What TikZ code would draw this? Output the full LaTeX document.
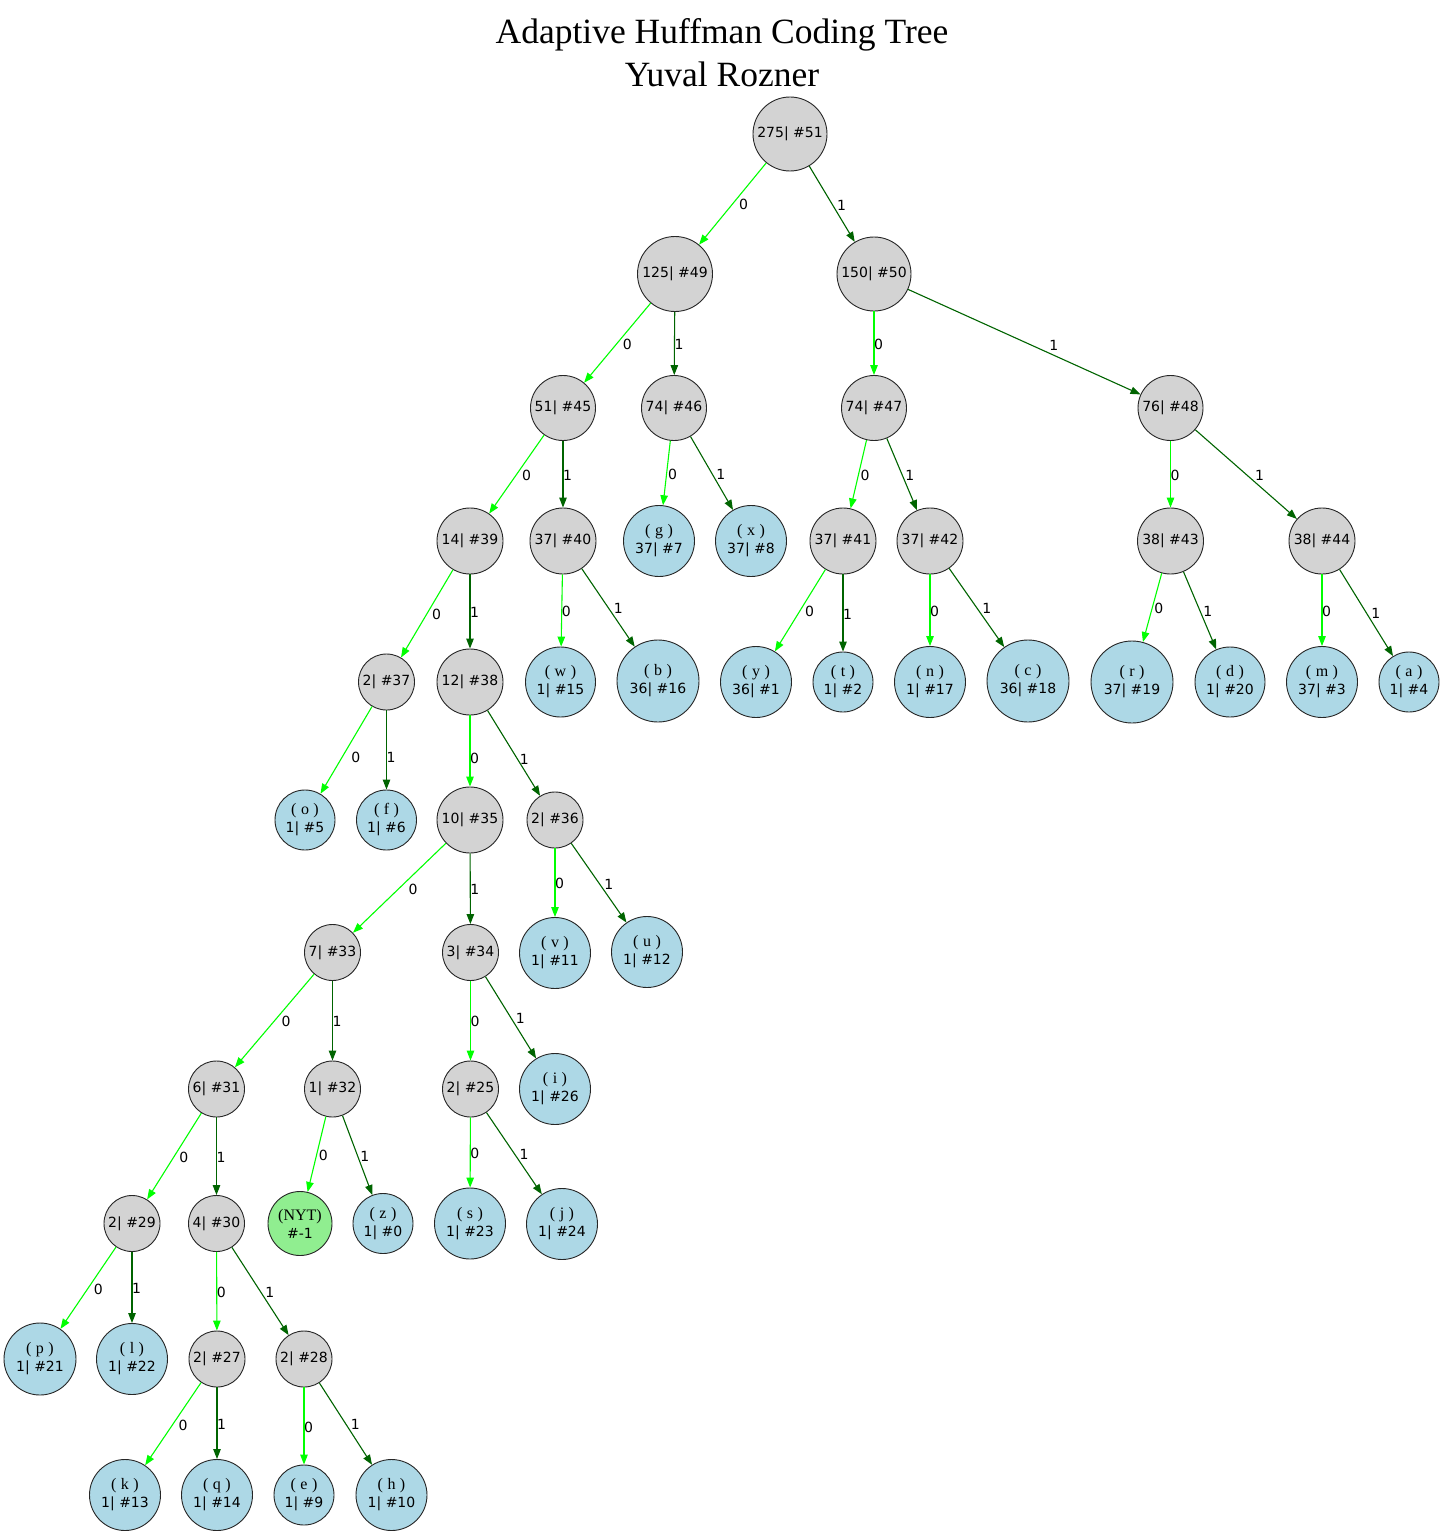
\documentclass[tikz,border=0pt]{standalone}
\usepackage{fontspec}
\setmainfont{Liberation Serif}
\newfontfamily\labsans{DejaVu Sans}
\newfontfamily\labserif{Liberation Serif}
\usetikzlibrary{arrows.meta}
\definecolor{nodegray}{HTML}{D3D3D3}
\definecolor{leafblue}{HTML}{ADD8E6}
\definecolor{nytgreen}{HTML}{90EE90}
\definecolor{zerogreen}{HTML}{00FF00}
\definecolor{onegreen}{HTML}{006400}
\newcommand\lf[2]{{\labserif\fontsize{16}{18}\selectfont(\hspace{4.5pt}#1\hspace{4.5pt})}\\#2}
\newcommand\lfnyt[2]{{\labserif\fontsize{16}{18}\selectfont(#1)}\\#2}
\begin{document}
\begin{tikzpicture}[x=1pt,y=-1pt,
  base/.style={circle, draw=black!85, line width=0.9pt, inner sep=0pt,
    font=\labsans\fontsize{14}{18}\selectfont, align=center},
  inode/.style={base, fill=nodegray, minimum size=#1},
  lnode/.style={base, fill=leafblue, minimum size=#1},
  nytnode/.style={base, fill=nytgreen, minimum size=#1},
  zero/.style={draw=zerogreen, line width=1.1pt, -{Triangle[length=10pt,width=7.5pt]}},
  one/.style={draw=onegreen, line width=1.1pt, -{Triangle[length=10pt,width=7.5pt]}},
  lbl/.style={midway, inner sep=0pt, text=black, font=\labsans\fontsize{14}{14}\selectfont, yshift=-1pt},
  titlefont/.style={font=\fontsize{35.5}{40}\selectfont},
]
\fill[white] (0,0) rectangle (1444,1536);
\useasboundingbox (0,0) rectangle (1444,1536);

\node[titlefont] (title1) at (722,35) {Adaptive Huffman Coding Tree};
\node[titlefont] (title2) at (722,74) {Yuval Rozner};

% internal nodes
\node[inode=74pt] (n51) at (790,134) {275| \#51};
\node[inode=75pt] (n49) at (675,274) {125| \#49};
\node[inode=74pt] (n50) at (874,274) {150| \#50};
\node[inode=65pt] (n45) at (563,408) {51| \#45};
\node[inode=65pt] (n46) at (674,408) {74| \#46};
\node[inode=65pt] (n47) at (874,408) {74| \#47};
\node[inode=65pt] (n48) at (1170.5,408) {76| \#48};
\node[inode=66pt] (n39) at (470,541) {14| \#39};
\node[inode=66pt] (n40) at (563,541) {37| \#40};
\node[inode=66pt] (n41) at (843,541) {37| \#41};
\node[inode=66pt] (n42) at (930,541) {37| \#42};
\node[inode=66pt] (n43) at (1170.5,541) {38| \#43};
\node[inode=66pt] (n44) at (1322,541) {38| \#44};
\node[inode=56pt] (n37) at (386.5,682) {2| \#37};
\node[inode=66pt] (n38) at (470,682) {12| \#38};
\node[inode=66pt] (n35) at (470,820) {10| \#35};
\node[inode=56pt] (n36) at (555,820) {2| \#36};
\node[inode=56pt] (n33) at (332.5,952.5) {7| \#33};
\node[inode=56pt] (n34) at (470.5,952.5) {3| \#34};
\node[inode=56pt] (n31) at (216.5,1089) {6| \#31};
\node[inode=56pt] (n32) at (332.5,1089) {1| \#32};
\node[inode=56pt] (n25) at (470.5,1089) {2| \#25};
\node[inode=56pt] (n29) at (132,1223.5) {2| \#29};
\node[inode=56pt] (n30) at (216.5,1223.5) {4| \#30};
\node[inode=56pt] (n27) at (217,1359) {2| \#27};
\node[inode=56pt] (n28) at (304,1359) {2| \#28};

% leaves
\node[lnode=71pt] (g) at (659,541) {\lf{g}{37| \#7}};
\node[lnode=71pt] (x) at (751,541) {\lf{x}{37| \#8}};
\node[lnode=70pt] (w) at (560.5,682) {\lf{w}{1| \#15}};
\node[lnode=82pt] (b) at (658,681) {\lf{b}{36| \#16}};
\node[lnode=71pt] (y) at (756,682) {\lf{y}{36| \#1}};
\node[lnode=60pt] (t) at (843,682) {\lf{t}{1| \#2}};
\node[lnode=71pt] (n) at (930,682) {\lf{n}{1| \#17}};
\node[lnode=82pt] (c) at (1028,681) {\lf{c}{36| \#18}};
\node[lnode=82pt] (r) at (1132,682) {\lf{r}{37| \#19}};
\node[lnode=70pt] (d) at (1230,682) {\lf{d}{1| \#20}};
\node[lnode=71pt] (m) at (1322,682) {\lf{m}{37| \#3}};
\node[lnode=60pt] (a) at (1409,682) {\lf{a}{1| \#4}};
\node[lnode=60pt] (o) at (305,820) {\lf{o}{1| \#5}};
\node[lnode=60pt] (f) at (386.5,820) {\lf{f}{1| \#6}};
\node[lnode=71pt] (v) at (555,953) {\lf{v}{1| \#11}};
\node[lnode=71pt] (u) at (647,952) {\lf{u}{1| \#12}};
\node[lnode=71pt] (i) at (555,1089) {\lf{i}{1| \#26}};
\node[nytnode=64pt] (nyt) at (300,1223.5) {\lfnyt{NYT}{\#-1}};
\node[lnode=60pt] (z) at (383,1223.5) {\lf{z}{1| \#0}};
\node[lnode=71pt] (s) at (470,1223.5) {\lf{s}{1| \#23}};
\node[lnode=71pt] (j) at (562,1224) {\lf{j}{1| \#24}};
\node[lnode=72pt] (p) at (40,1359) {\lf{p}{1| \#21}};
\node[lnode=71pt] (l) at (132,1359) {\lf{l}{1| \#22}};
\node[lnode=71pt] (k) at (125,1495) {\lf{k}{1| \#13}};
\node[lnode=71pt] (q) at (217,1495) {\lf{q}{1| \#14}};
\node[lnode=60pt] (e) at (304,1495) {\lf{e}{1| \#9}};
\node[lnode=71pt] (h) at (391.5,1495) {\lf{h}{1| \#10}};

% edges
\draw[zero] (n51) -- node[lbl, xshift=11pt] {0} (n49);
\draw[one]  (n51) -- node[lbl, xshift=9.5pt] {1} (n50);
\draw[zero] (n49) -- node[lbl, xshift=10pt] {0} (n45);
\draw[one]  (n49) -- node[lbl, xshift=4.5pt] {1} (n46);
\draw[zero] (n50) -- node[lbl, xshift=4.5pt] {0} (n47);
\draw[one]  (n50) -- node[lbl, xshift=29.5pt, yshift=-2pt] {1} (n48);
\draw[zero] (n45) -- node[lbl, xshift=10pt] {0} (n39);
\draw[one]  (n45) -- node[lbl, xshift=4.5pt] {1} (n40);
\draw[zero] (n46) -- node[lbl, xshift=6pt] {0} (g);
\draw[one]  (n46) -- node[lbl, xshift=9pt] {1} (x);
\draw[zero] (n47) -- node[lbl, xshift=6.5pt] {0} (n41);
\draw[one]  (n47) -- node[lbl, xshift=8pt] {1} (n42);
\draw[zero] (n48) -- node[lbl, xshift=4.5pt] {0} (n43);
\draw[one]  (n48) -- node[lbl, xshift=13.5pt] {1} (n44);
\draw[zero] (n39) -- node[lbl, xshift=9.5pt] {0} (n37);
\draw[one]  (n39) -- node[lbl, xshift=4.5pt] {1} (n38);
\draw[zero] (n40) -- node[lbl, xshift=4.5pt] {0} (w);
\draw[one]  (n40) -- node[lbl, xshift=10pt] {1} (b);
\draw[zero] (n41) -- node[lbl, xshift=9.5pt] {0} (y);
\draw[one]  (n41) -- node[lbl, xshift=4.5pt] {1} (t);
\draw[zero] (n42) -- node[lbl, xshift=4.5pt] {0} (n);
\draw[one]  (n42) -- node[lbl, xshift=10pt] {1} (c);
\draw[zero] (n43) -- node[lbl, xshift=6.5pt] {0} (r);
\draw[one]  (n43) -- node[lbl, xshift=8pt] {1} (d);
\draw[zero] (n44) -- node[lbl, xshift=4.5pt] {0} (m);
\draw[one]  (n44) -- node[lbl, xshift=9.5pt] {1} (a);
\draw[zero] (n37) -- node[lbl, xshift=9.5pt, yshift=-6pt] {0} (o);
\draw[one]  (n37) -- node[lbl, xshift=4.5pt, yshift=-6pt] {1} (f);
\draw[zero] (n38) -- node[lbl, xshift=4.5pt, yshift=-6pt] {0} (n35);
\draw[one]  (n38) -- node[lbl, xshift=10.5pt, yshift=-5pt] {1} (n36);
\draw[zero] (n35) -- node[lbl, xshift=13.5pt] {0} (n33);
\draw[one]  (n35) -- node[lbl, xshift=4.5pt] {1} (n34);
\draw[zero] (n36) -- node[lbl, xshift=4.5pt] {0} (v);
\draw[one]  (n36) -- node[lbl, xshift=10pt] {1} (u);
\draw[zero] (n33) -- node[lbl, xshift=11.5pt] {0} (n31);
\draw[one]  (n33) -- node[lbl, xshift=4.5pt] {1} (n32);
\draw[zero] (n34) -- node[lbl, xshift=4.5pt] {0} (n25);
\draw[one]  (n34) -- node[lbl, xshift=9.5pt] {1} (i);
\draw[zero] (n31) -- node[lbl, xshift=9.5pt] {0} (n29);
\draw[one]  (n31) -- node[lbl, xshift=4.5pt] {1} (n30);
\draw[zero] (n32) -- node[lbl, xshift=6.5pt] {0} (nyt);
\draw[one]  (n32) -- node[lbl, xshift=7.5pt] {1} (z);
\draw[zero] (n25) -- node[lbl, xshift=4.5pt] {0} (s);
\draw[one]  (n25) -- node[lbl, xshift=10pt] {1} (j);
\draw[zero] (n29) -- node[lbl, xshift=10pt] {0} (p);
\draw[one]  (n29) -- node[lbl, xshift=4.5pt] {1} (l);
\draw[zero] (n30) -- node[lbl, xshift=4.5pt] {0} (n27);
\draw[one]  (n30) -- node[lbl, xshift=9.5pt] {1} (n28);
\draw[zero] (n27) -- node[lbl, xshift=10pt] {0} (k);
\draw[one]  (n27) -- node[lbl, xshift=4.5pt] {1} (q);
\draw[zero] (n28) -- node[lbl, xshift=4.5pt] {0} (e);
\draw[one]  (n28) -- node[lbl, xshift=9.5pt] {1} (h);
\end{tikzpicture}
\end{document}
